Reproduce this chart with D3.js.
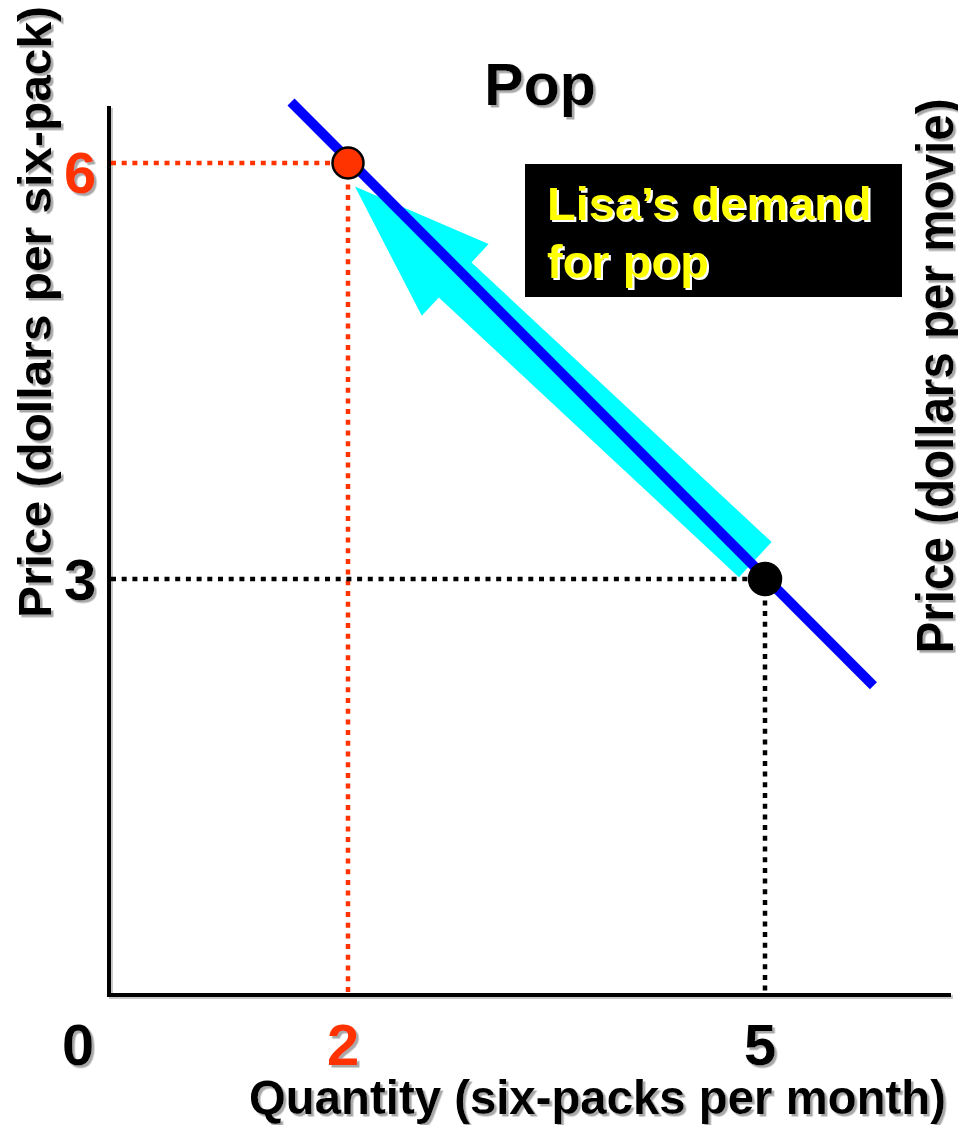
<!DOCTYPE html>
<html>
<head>
<meta charset="utf-8">
<script src="https://cdn.jsdelivr.net/npm/d3@7"></script>
<style>
  html, body { margin: 0; padding: 0; background: #fff; }
  svg { display: block; }
  text { font-family: "Liberation Sans", Arial, sans-serif; font-weight: bold; }
</style>
</head>
<body>
<svg id="chart" width="958" height="1125"></svg>
<script>
// ---- data ----
const title = "Pop";
const xAxisLabel = "Quantity (six-packs per month)";
const yAxisLabel = "Price (dollars per six-pack)";
const rightAxisLabel = "Price (dollars per movie)";
const xTicks = [0, 2, 5];
const xTickColors = ["#000000", "#ff3300", "#000000"];
const yTicks = [6, 3];
const yTickColors = ["#ff3300", "#000000"];
// demand curve end points
const demandQ = [1.59, 5.78];
const demandP = [6.44, 2.23];
// highlighted points on the demand curve
const pointQ = [2, 5];
const pointP = [6, 3];
const pointColors = ["#ff3300", "#000000"];
// arrow along the curve (from tail to tip)
const arrowQ = [4.93, 2.05];
const arrowP = [3.14, 5.83];
const noteLines = ["Lisa\u2019s demand", "for pop"];

// ---- layout ----
const svg = d3.select("#chart");
const axisX = 109, axisY = 995, axisTop = 106, axisRight = 951;
const x = d3.scaleLinear().domain([0, 5]).range([70, 765]);
const y = d3.scaleLinear().domain([0, 6]).range([995, 163]);

const defs = svg.append("defs");
function addShadow(id, color, d) {
  const f = defs.append("filter").attr("id", id)
    .attr("x", "-10%").attr("y", "-10%").attr("width", "130%").attr("height", "140%");
  f.append("feDropShadow").attr("dx", d).attr("dy", d).attr("stdDeviation", 0.4)
    .attr("flood-color", color).attr("flood-opacity", 1);
}
addShadow("grayShadow", "#a8a8a8", 2.5);
addShadow("whiteShadow", "#ffffff", 2);

function shadowText(parent, tx, ty, rot, txt, opt) {
  const outer = parent.append("g")
    .attr("transform", `translate(${tx},${ty})`)
    .attr("filter", `url(#${opt.shadowId || "grayShadow"})`);
  const t = outer.append("g").attr("transform", `rotate(${rot})`).append("text")
    .attr("text-anchor", opt.anchor || "middle")
    .attr("font-size", opt.size)
    .attr("fill", opt.fill || "#000")
    .text(txt);
  if (opt.len) t.attr("textLength", opt.len).attr("lengthAdjust", "spacingAndGlyphs");
}

// axes (with slight shadow)
const axes = svg.append("g");
axes.append("path")
  .attr("d", `M${axisX + 2},${axisTop + 2}V${axisY + 2}H${axisRight + 2}`)
  .attr("fill", "none").attr("stroke", "#c8c8c8").attr("stroke-width", 4);
axes.append("path")
  .attr("d", `M${axisX},${axisTop}V${axisY}H${axisRight}`)
  .attr("fill", "none").attr("stroke", "#000").attr("stroke-width", 4);

// guide lines (dotted)
const guides = svg.append("g");
pointQ.forEach((q, i) => {
  guides.append("line")
    .attr("x1", axisX + 2).attr("x2", x(q)).attr("y1", y(pointP[i])).attr("y2", y(pointP[i]))
    .attr("stroke", pointColors[i]).attr("stroke-width", 4.5).attr("stroke-dasharray", "5,5.7");
  guides.append("line")
    .attr("x1", x(q)).attr("x2", x(q)).attr("y1", y(pointP[i])).attr("y2", axisY - 2)
    .attr("stroke", pointColors[i]).attr("stroke-width", 4.5).attr("stroke-dasharray", "5,5.7");
});

// arrow
(function () {
  const x0 = x(arrowQ[0]), y0 = y(arrowP[0]), x1 = x(arrowQ[1]), y1 = y(arrowP[1]);
  const dx = x1 - x0, dy = y1 - y0, L = Math.hypot(dx, dy);
  const ux = dx / L, uy = dy / L, nx = -uy, ny = ux;
  const sw = 24, hw = 49, hl = 137;
  const bx = x1 - ux * hl, by = y1 - uy * hl;
  const pts = [
    [x0 + nx * sw, y0 + ny * sw],
    [bx + nx * sw, by + ny * sw],
    [bx + nx * hw, by + ny * hw],
    [x1, y1],
    [bx - nx * hw, by - ny * hw],
    [bx - nx * sw, by - ny * sw],
    [x0 - nx * sw, y0 - ny * sw]
  ];
  svg.append("polygon").attr("points", pts.map(p => p.join(",")).join(" ")).attr("fill", "#00ffff");
})();

// demand line
svg.append("line")
  .attr("x1", x(demandQ[0])).attr("y1", y(demandP[0]))
  .attr("x2", x(demandQ[1])).attr("y2", y(demandP[1]))
  .attr("stroke", "#0000ff").attr("stroke-width", 10);

// points
svg.append("g").selectAll("circle").data(pointQ).join("circle")
  .attr("cx", d => x(d)).attr("cy", (d, i) => y(pointP[i]))
  .attr("r", (d, i) => i === 0 ? 15.5 : 16)
  .attr("fill", (d, i) => pointColors[i])
  .attr("stroke", "#000").attr("stroke-width", 2.5);

// tick labels
xTicks.forEach((t, i) => {
  const px = t === 0 ? 78 : x(t) - 5;
  shadowText(svg, px, 1065, 0, String(t), { size: 58, fill: xTickColors[i] });
});
yTicks.forEach((t, i) => {
  shadowText(svg, 80, y(t) + (i === 0 ? 30 : 21), 0, String(t), { size: 58, fill: yTickColors[i] });
});

// title
shadowText(svg, 540, 105, 0, title, { size: 59 });

// axis labels
shadowText(svg, 51, 312, -90, yAxisLabel, { size: 46, len: 612 });
shadowText(svg, 953, 376, -90, rightAxisLabel, { size: 52, len: 555 });
shadowText(svg, 946, 1114, 0, xAxisLabel, { size: 48, anchor: "end", len: 697 });

// note box
svg.append("rect").attr("x", 525).attr("y", 164).attr("width", 377).attr("height", 133).attr("fill", "#000");
noteLines.forEach((s, i) => {
  shadowText(svg, 547, 220 + i * 58, 0, s, { size: 47, anchor: "start", fill: "#ffff00", shadowId: "whiteShadow" });
});
</script>
</body>
</html>
